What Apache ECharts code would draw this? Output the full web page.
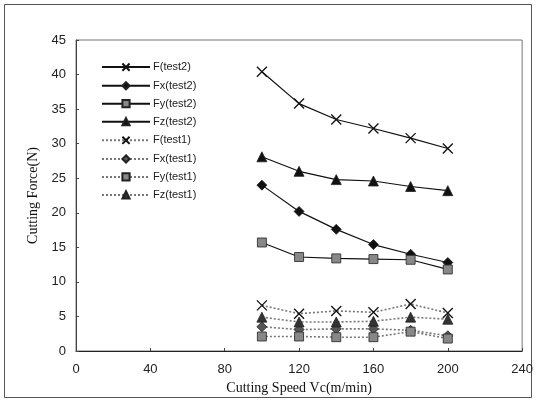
<!DOCTYPE html>
<html>
<head>
<meta charset="utf-8">
<script src="https://cdn.jsdelivr.net/npm/echarts@6/dist/echarts.min.js"></script>
<style>
  html, body { margin: 0; padding: 0; background: #fff; }
  #chart { width: 536px; height: 403px; }
</style>
</head>
<body>
<div id="chart"></div>
<script>
// cutting speed (m/min)
var speeds = [100, 120, 140, 160, 180, 200];

// test2 (solid lines)
var fTest2 = [40.4, 35.8, 33.5, 32.2, 30.8, 29.3];
var fxTest2 = [24.0, 20.2, 17.6, 15.4, 14.0, 12.8];
var fyTest2 = [15.7, 13.6, 13.4, 13.3, 13.2, 11.8];
var fzTest2 = [28.1, 26.0, 24.8, 24.6, 23.8, 23.2];

// test1 (dotted lines)
var fTest1 = [6.6, 5.4, 5.8, 5.6, 6.8, 5.5];
var fxTest1 = [3.5, 3.1, 3.2, 3.2, 3.0, 2.2];
var fyTest1 = [2.1, 2.1, 2.0, 2.0, 2.8, 1.8];
var fzTest1 = [4.9, 4.2, 4.2, 4.3, 4.9, 4.6];

var xTicks = [0, 40, 80, 120, 160, 200, 240];
var yTicks = [0, 5, 10, 15, 20, 25, 30, 35, 40, 45];

var crossSym = 'path://M0,0L10,10M10,0L0,10';

function pairs(vals) {
  return speeds.map(function (s, i) { return [s, vals[i]]; });
}

// 实线 test2 / 虚线 test1
function mk(name, vals, symbol, fill, dotted) {
  var isCross = symbol === crossSym;
  return {
    name: name,
    type: 'line',
    data: pairs(vals),
    symbol: symbol,
    symbolSize: isCross ? 10 : (symbol === 'rect' ? 9 : 10),
    showAllSymbol: true,
    lineStyle: {
      color: dotted ? '#777' : '#111',
      width: dotted ? 1.6 : 1.2,
      type: dotted ? [2, 2] : 'solid'
    },
    itemStyle: {
      color: isCross ? 'none' : fill,
      borderColor: isCross ? '#111' : '#222',
      borderWidth: isCross ? 1.3 : 0.8
    },
    emphasis: { disabled: true },
    animation: false
  };
}

var chart = echarts.init(document.getElementById('chart'));

chart.setOption({
  backgroundColor: '#fff',
  graphic: [{
    type: 'rect',
    shape: { x: 4.5, y: 4.5, width: 527, height: 393 },
    style: { fill: 'none', stroke: '#555', lineWidth: 1 },
    silent: true
  }],
  grid: {
    left: 76, right: 11, top: 40, bottom: 52,
    show: true, borderColor: '#777', borderWidth: 1
  },
  legend: {
    orient: 'vertical',
    left: 96, top: 56,
    itemWidth: 48, itemHeight: 9, itemGap: 7,
    textStyle: { fontFamily: 'Liberation Sans, Arial', fontSize: 11, color: '#222', padding: [0, 0, 0, -2] },
    data: ['F(test2)', 'Fx(test2)', 'Fy(test2)', 'Fz(test2)', 'F(test1)', 'Fx(test1)', 'Fy(test1)', 'Fz(test1)']
  },
  xAxis: {
    type: 'value',
    min: 0, max: 240, interval: 40,
    name: 'Cutting Speed Vc(m/min)',
    nameLocation: 'middle',
    nameGap: 26,
    nameTextStyle: { fontFamily: 'Liberation Serif, Times New Roman', fontSize: 14, color: '#111' },
    axisLine: { lineStyle: { color: '#222' } },
    axisTick: { inside: true, length: 3, lineStyle: { color: '#444' } },
    axisLabel: {
      margin: 12,
      fontFamily: 'Liberation Sans, Arial', fontSize: 13, color: '#222',
      customValues: xTicks
    },
    splitLine: { show: false }
  },
  yAxis: {
    type: 'value',
    min: 0, max: 45, interval: 5,
    name: 'Cutting Force(N)',
    nameLocation: 'middle',
    nameGap: 34,
    nameRotate: 90,
    nameTextStyle: { fontFamily: 'Liberation Serif, Times New Roman', fontSize: 14, color: '#111' },
    axisLine: { show: true, lineStyle: { color: '#444' } },
    axisTick: { show: true, inside: true, length: 3, lineStyle: { color: '#444' } },
    axisLabel: {
      margin: 10,
      fontFamily: 'Liberation Sans, Arial', fontSize: 13, color: '#222',
      customValues: yTicks
    },
    splitLine: { show: false }
  },
  series: [
    mk('F(test2)', fTest2, crossSym, '#111', false),
    mk('Fx(test2)', fxTest2, 'diamond', '#111', false),
    mk('Fy(test2)', fyTest2, 'rect', '#888', false),
    mk('Fz(test2)', fzTest2, 'triangle', '#111', false),
    mk('F(test1)', fTest1, crossSym, '#111', true),
    mk('Fx(test1)', fxTest1, 'diamond', '#555', true),
    mk('Fy(test1)', fyTest1, 'rect', '#888', true),
    mk('Fz(test1)', fzTest1, 'triangle', '#333', true)
  ]
});
</script>
</body>
</html>
